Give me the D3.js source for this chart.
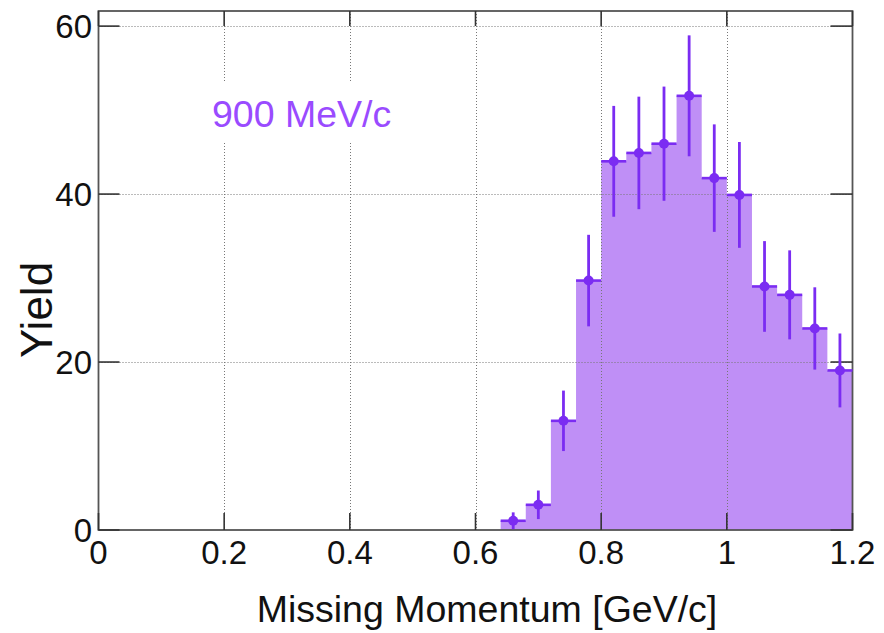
<!DOCTYPE html>
<html>
<head>
<meta charset="utf-8">
<script src="https://cdn.jsdelivr.net/npm/d3@7"></script>
<style>
  html, body { margin: 0; padding: 0; background: #fff; }
  svg { display: block; }
  text { font-family: "Liberation Sans", Arial, Helvetica, sans-serif; }
</style>
</head>
<body>
<div id="chart"></div>
<script>
// ---- data ----
const binCenters = [0.66, 0.70, 0.74, 0.78, 0.82, 0.86, 0.90, 0.94, 0.98, 1.02, 1.06, 1.10, 1.14, 1.18];
const binWidth = 0.04;
const yields = [1.1, 3.0, 13.0, 29.7, 43.9, 44.9, 46.0, 51.7, 41.9, 39.9, 29.0, 28.0, 24.0, 19.0];
const errors = [1.0, 1.7, 3.6, 5.45, 6.6, 6.7, 6.8, 7.2, 6.4, 6.3, 5.4, 5.3, 4.9, 4.4];
const xTicks = [0, 0.2, 0.4, 0.6, 0.8, 1.0, 1.2];
const xTickLabels = ["0", "0.2", "0.4", "0.6", "0.8", "1", "1.2"];
const yTicks = [0, 20, 40, 60];
const yTickLabels = ["0", "20", "40", "60"];
const xTitle = "Missing Momentum [GeV/c]";
const yTitle = "Yield";
const annotation = "900 MeV/c";

// ---- layout ----
const W = 884, H = 633;
const pL = 98.5, pR = 852.5, pT = 11, pB = 530;
const fillColor = "#bf8ff6";
const markColor = "#7b2cf2";
const textColor = "#9a4bff";

const svg = d3.select("#chart").append("svg").attr("width", W).attr("height", H);

const x = d3.scaleLinear().domain([0, 1.2]).range([pL, pR]);
const y = d3.scaleLinear().domain([0, 61.8]).range([pB, pT]);

const bins = binCenters.map((c, i) => ({ c, lo: c - binWidth / 2, hi: c + binWidth / 2, v: yields[i], e: errors[i] }));

// histogram fill (step area)
const stepPts = [];
bins.forEach(b => { stepPts.push([b.lo, b.v]); stepPts.push([b.hi, b.v]); });
const area = d3.area().x(d => x(d[0])).y0(y(0)).y1(d => y(d[1]));
svg.append("path").datum(stepPts).attr("d", area).attr("fill", fillColor);

// grid (dotted, drawn over fill)
const grid = svg.append("g").attr("stroke", "#777").attr("stroke-width", 1).attr("stroke-dasharray", "1,2");
grid.selectAll("line.gx").data(xTicks.filter(t => t > 0 && t < 1.2)).join("line")
  .attr("x1", d => Math.round(x(d)) + 0.5).attr("x2", d => Math.round(x(d)) + 0.5)
  .attr("y1", pT).attr("y2", pB);
grid.selectAll("line.gy").data(yTicks.filter(t => t > 0)).join("line")
  .attr("y1", d => Math.round(y(d)) + 0.5).attr("y2", d => Math.round(y(d)) + 0.5)
  .attr("x1", pL).attr("x2", pR);

// annotation with white box
svg.append("rect").attr("x", 203).attr("y", 81).attr("width", 200).attr("height", 60).attr("fill", "#fff");
svg.append("text").attr("x", 212).attr("y", 127).attr("font-size", 37.5).attr("fill", textColor).text(annotation);

// frame
svg.append("rect").attr("x", pL).attr("y", pT).attr("width", pR - pL).attr("height", pB - pT)
  .attr("fill", "none").attr("stroke", "#555").attr("stroke-width", 1.8);

// ticks
const tk = svg.append("g").attr("stroke", "#333").attr("stroke-width", 1.6);
xTicks.forEach(t => {
  const px = x(t);
  tk.append("line").attr("x1", px).attr("x2", px).attr("y1", pB).attr("y2", pB - 17);
  tk.append("line").attr("x1", px).attr("x2", px).attr("y1", pT).attr("y2", pT + 15);
});
yTicks.forEach(t => {
  const py = y(t);
  tk.append("line").attr("x1", pL).attr("x2", pL + 21).attr("y1", py).attr("y2", py);
  tk.append("line").attr("x1", pR).attr("x2", pR - 22).attr("y1", py).attr("y2", py);
});

// tick labels
svg.append("g").selectAll("text").data(xTicks).join("text")
  .attr("x", d => x(d)).attr("y", 564).attr("text-anchor", "middle")
  .attr("font-size", 33).attr("fill", "#111").text((d, i) => xTickLabels[i]);
svg.append("g").selectAll("text").data(yTicks).join("text")
  .attr("x", 92).attr("y", d => y(d) + 12).attr("text-anchor", "end")
  .attr("font-size", 33).attr("fill", "#111").text((d, i) => yTickLabels[i]);

// axis titles
svg.append("text").attr("x", 487).attr("y", 622).attr("text-anchor", "middle")
  .attr("font-size", 37.5).attr("fill", "#111").text(xTitle);
svg.append("text").attr("transform", "translate(52,310) rotate(-90)").attr("text-anchor", "middle")
  .attr("font-size", 44).attr("fill", "#111").text(yTitle);

// error bars & markers
const eb = svg.append("g").attr("stroke", markColor);
eb.selectAll("line.h").data(bins).join("line")
  .attr("x1", d => x(d.lo)).attr("x2", d => x(d.hi)).attr("y1", d => y(d.v)).attr("y2", d => y(d.v))
  .attr("stroke-width", 2.6);
eb.selectAll("line.v").data(bins).join("line")
  .attr("x1", d => x(d.c)).attr("x2", d => x(d.c))
  .attr("y1", d => y(Math.max(0, d.v - d.e))).attr("y2", d => y(d.v + d.e))
  .attr("stroke-width", 2.8);
svg.append("g").selectAll("circle").data(bins).join("circle")
  .attr("cx", d => x(d.c)).attr("cy", d => y(d.v)).attr("r", 5).attr("fill", markColor);
</script>
</body>
</html>
